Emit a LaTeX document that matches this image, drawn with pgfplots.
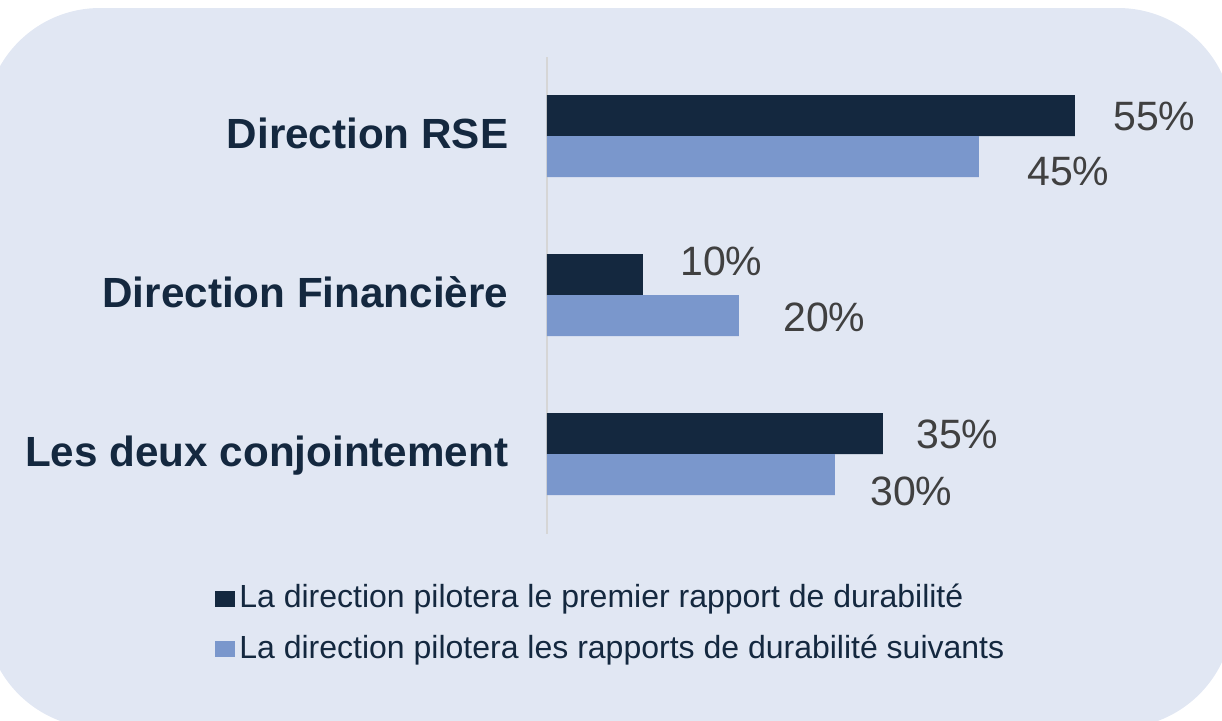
\documentclass[border=0pt]{standalone}
\usepackage{pgfplots}
\pgfplotsset{compat=1.18}
\usepackage{pgfplotstable}
\usepackage{fontspec}
\setmainfont{Liberation Sans}
\definecolor{bgc}{HTML}{E1E7F3}
\definecolor{navy}{HTML}{14283F}
\definecolor{lightbar}{HTML}{7A97CC}
\definecolor{valc}{HTML}{404040}
\definecolor{axc}{HTML}{D6D6D6}

\pgfplotstableread{
x y dx dy
55 2 19 -7.5
10 1 18.5 -0.25
35 0 16.5 -7.25
}\darkdata
\pgfplotstableread{
x y dx dy
45 2 24 -14.25
20 1 22 -8
30 0 17.5 -15.25
}\lightdata

\begin{document}
\begin{tikzpicture}
\path[use as bounding box, clip] (0,0) rectangle (611pt,360pt);
\fill[bgc, rounded corners=57.5pt] (-7.5pt,-4pt) rectangle (616.5pt,356pt);
\begin{axis}[
  at={(273.5pt,93.25pt)}, anchor=south west,
  scale only axis, width=288pt, height=238.5pt,
  xmin=0, xmax=60, ymin=-0.5, ymax=2.5,
  xbar, bar width=20.5pt,
  axis x line=none,
  axis y line*=left,
  y axis line style={draw=axc, line width=1pt},
  ytick={0,1,2},
  yticklabels={Les deux conjointement, Direction Financière, Direction RSE},
  major tick length=0pt,
  yticklabel style={anchor=base east, inner sep=0pt, xshift=-19.2pt, yshift=-6pt,
    font=\bfseries\fontsize{21.1}{25}\selectfont, text=navy},
  point meta=x,
  nodes near coords={\pgfmathprintnumber[assume math mode=true]{\pgfplotspointmeta}\%},
  visualization depends on={\thisrow{dx} \as \dx},
  visualization depends on={\thisrow{dy} \as \dy},
  every node near coord/.append style={anchor=base west, inner sep=0pt,
    xshift=\dx pt, yshift=\dy pt, font=\fontsize{20.5}{24}\selectfont, text=valc},
  legend style={at={(-0.5764,-0.0974)}, anchor=north west, draw=none, fill=none,
    inner sep=0pt, font=\fontsize{16}{19}\selectfont, text=navy, row sep=8pt,
    legend cell align=left},
  legend image code/.code={\path (0pt,-4.5pt) rectangle (10pt,3.5pt);
    \fill[#1, draw=none] (0pt,-4.5pt) rectangle (8pt,3.5pt);},
]
\addplot[fill=navy, draw=none, bar shift=10.25pt] table[x=x, y=y] {\darkdata};
\addlegendentry{La direction pilotera le premier rapport de durabilité}
\addplot[fill=lightbar, draw=none, bar shift=-10.25pt] table[x=x, y=y] {\lightdata};
\addlegendentry{La direction pilotera les rapports de durabilité suivants}
\end{axis}
\end{tikzpicture}
\end{document}
